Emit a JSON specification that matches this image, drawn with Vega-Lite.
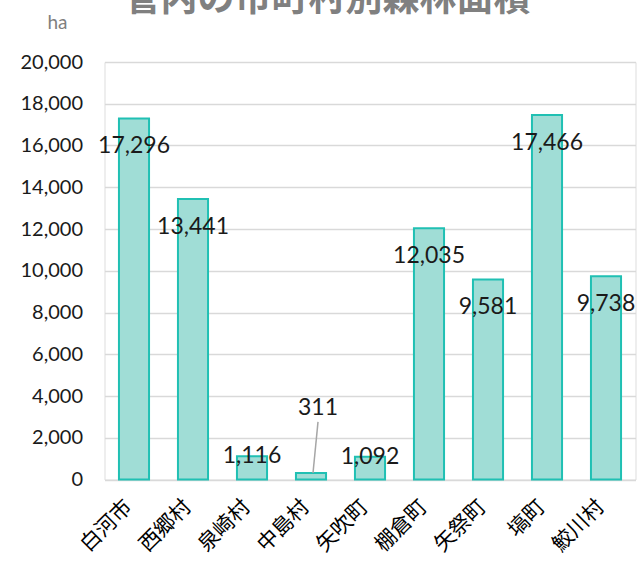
{
  "$schema": "https://vega.github.io/schema/vega-lite/v6.json",
  "width": 531,
  "height": 417.5,
  "autosize": {"type": "none"},
  "padding": {"left": 104.5, "top": 62, "right": 1, "bottom": 85},
  "background": "white",
  "title": {
    "text": "管内の市町村別森林面積",
    "font": "Noto Sans CJK JP",
    "fontSize": 37,
    "fontWeight": "bold",
    "color": "#808080",
    "anchor": "middle",
    "frame": "group",
    "dx": -43,
    "dy": 38,
    "offset": 3,
    "baseline": "alphabetic"
  },
  "data": {
    "values": [
      {"name": "白河市", "area": 17296},
      {"name": "西郷村", "area": 13441},
      {"name": "泉崎村", "area": 1116},
      {"name": "中島村", "area": 311},
      {"name": "矢吹町", "area": 1092},
      {"name": "棚倉町", "area": 12035},
      {"name": "矢祭町", "area": 9581},
      {"name": "塙町", "area": 17466},
      {"name": "鮫川村", "area": 9738}
    ]
  },
  "encoding": {
    "x": {
      "field": "name",
      "type": "nominal",
      "sort": null,
      "scale": {"paddingInner": 0.49, "paddingOuter": 0.245},
      "axis": {
        "title": null,
        "labelAngle": -45,
        "labelAlign": "right",
        "labelBaseline": "middle",
        "labelFont": "Noto Sans CJK JP",
        "labelFontSize": 21,
        "labelColor": "#000000",
        "labelPadding": 24,
        "labelOffset": -5,
        "ticks": false,
        "domain": false,
        "grid": false
      }
    }
  },
  "layer": [
    {
      "mark": {"type": "bar", "fill": "#a0ddd6", "stroke": "#20c0b3", "strokeWidth": 2},
      "encoding": {
        "y": {
          "field": "area",
          "type": "quantitative",
          "scale": {"domain": [0, 20000], "nice": false},
          "axis": {
            "title": "ha",
            "titleAngle": 0,
            "titleAlign": "center",
            "titleBaseline": "middle",
            "titleX": -47.5,
            "titleY": -40,
            "titleFont": "Lato",
            "titleFontSize": 19,
            "titleFontWeight": "normal",
            "titleColor": "#7f7f7f",
            "values": [0, 2000, 4000, 6000, 8000, 10000, 12000, 14000, 16000, 18000, 20000],
            "format": ",d",
            "labelFont": "Lato",
            "labelFontSize": 20,
            "labelColor": "#1a1a1a",
            "labelPadding": 22,
            "ticks": false,
            "domain": false,
            "grid": true,
            "gridColor": "#d9d9d9",
            "gridWidth": 1.5
          }
        }
      }
    },
    {
      "transform": [{"filter": "datum.area > 5000"}],
      "mark": {"type": "text", "font": "Lato", "fontSize": 23, "color": "#1a1a1a", "baseline": "middle", "dy": 28},
      "encoding": {
        "y": {"field": "area", "type": "quantitative"},
        "text": {"field": "area", "type": "quantitative", "format": ",d"}
      }
    },
    {
      "transform": [{"filter": "datum.area > 1000 && datum.area <= 5000"}],
      "mark": {"type": "text", "font": "Lato", "fontSize": 23, "color": "#1a1a1a", "baseline": "middle", "dy": 0},
      "encoding": {
        "y": {"field": "area", "type": "quantitative"},
        "text": {"field": "area", "type": "quantitative", "format": ",d"}
      }
    },
    {
      "transform": [{"filter": "datum.area <= 1000"}],
      "mark": {"type": "text", "font": "Lato", "fontSize": 23, "color": "#1a1a1a", "baseline": "middle", "dy": -65, "dx": 7},
      "encoding": {
        "y": {"field": "area", "type": "quantitative"},
        "text": {"field": "area", "type": "quantitative", "format": ",d"}
      }
    },
    {
      "transform": [{"filter": "datum.area <= 1000"}],
      "mark": {"type": "rule", "color": "#a6a6a6", "strokeWidth": 1.5, "xOffset": 2, "x2Offset": 7},
      "encoding": {
        "x2": {"field": "name"},
        "y": {"field": "area", "type": "quantitative"},
        "y2": {"datum": 2760}
      }
    }
  ]
}
